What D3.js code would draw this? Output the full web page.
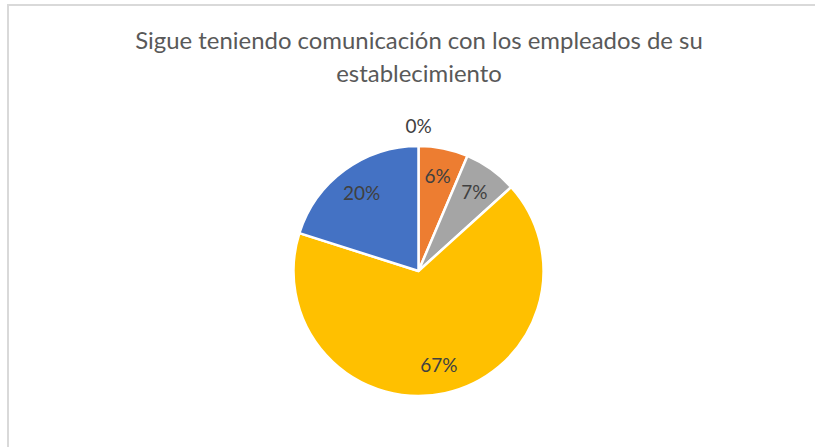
<!DOCTYPE html>
<html>
<head>
<meta charset="utf-8">
<script src="https://cdn.jsdelivr.net/npm/d3@7"></script>
<style>
  html, body { margin: 0; padding: 0; background: #fff; }
  svg { display: block; }
</style>
</head>
<body>
<svg id="chart" width="815" height="447"></svg>
<script>
const titleLines = ["Sigue teniendo comunicación con los empleados de su", "establecimiento"];
const categories = ["A", "B", "C", "D", "E"];
const values = [0, 6.4, 6.9, 66.6, 20.1];
const labels = ["0%", "6%", "7%", "67%", "20%"];
const colors = ["#4472C4", "#ED7D31", "#A5A5A5", "#FFC000", "#4472C4"];

const svg = d3.select("#chart");
const W = 815, H = 447;
const font = "Lato, 'Open Sans', sans-serif";

// chart border (extends past right/bottom of the view)
svg.append("rect")
  .attr("x", 8).attr("y", 5)
  .attr("width", W + 20).attr("height", H + 20)
  .attr("fill", "#fff")
  .attr("stroke", "#D9D9D9").attr("stroke-width", 2);

// title
const title = svg.append("text")
  .attr("text-anchor", "middle")
  .attr("fill", "#595959")
  .style("font-family", font)
  .style("font-size", "19px");
title.selectAll("tspan").data(titleLines).join("tspan")
  .attr("x", 419)
  .attr("y", (d, i) => 49 + i * 32.5)
  .text(d => d);
// fit line 1 to the reference width
const firstLen = title.select("tspan").node().getComputedTextLength();
const fs = 19 * 568 / firstLen;
title.style("font-size", fs + "px");

const cx = 418.5, cy = 271, R = 125;
const g = svg.append("g").attr("transform", `translate(${cx},${cy})`);

const pie = d3.pie().sort(null).value(d => d.v);
const data = pie(categories.map((c, i) => ({ c, v: values[i], label: labels[i], color: colors[i] })));
const arc = d3.arc().innerRadius(0).outerRadius(R);

g.selectAll("path").data(data).join("path")
  .attr("d", arc)
  .attr("fill", d => d.data.color)
  .attr("stroke", "#fff")
  .attr("stroke-width", 2.5)
  .attr("stroke-linejoin", "round");

const labelArc = d3.arc().innerRadius(R * 0.77).outerRadius(R * 0.77);
const outerArc = d3.arc().innerRadius(R + 20).outerRadius(R + 20);

g.selectAll("text.lbl").data(data).join("text")
  .attr("class", "lbl")
  .attr("transform", d => {
    const p = d.data.v === 0 ? outerArc.centroid(d) : labelArc.centroid(d);
    return `translate(${p[0]},${p[1]})`;
  })
  .attr("text-anchor", "middle")
  .attr("dy", "0.35em")
  .attr("fill", "#404040")
  .style("font-family", font)
  .style("font-size", "19px")
  .text(d => d.data.label);
</script>
</body>
</html>
